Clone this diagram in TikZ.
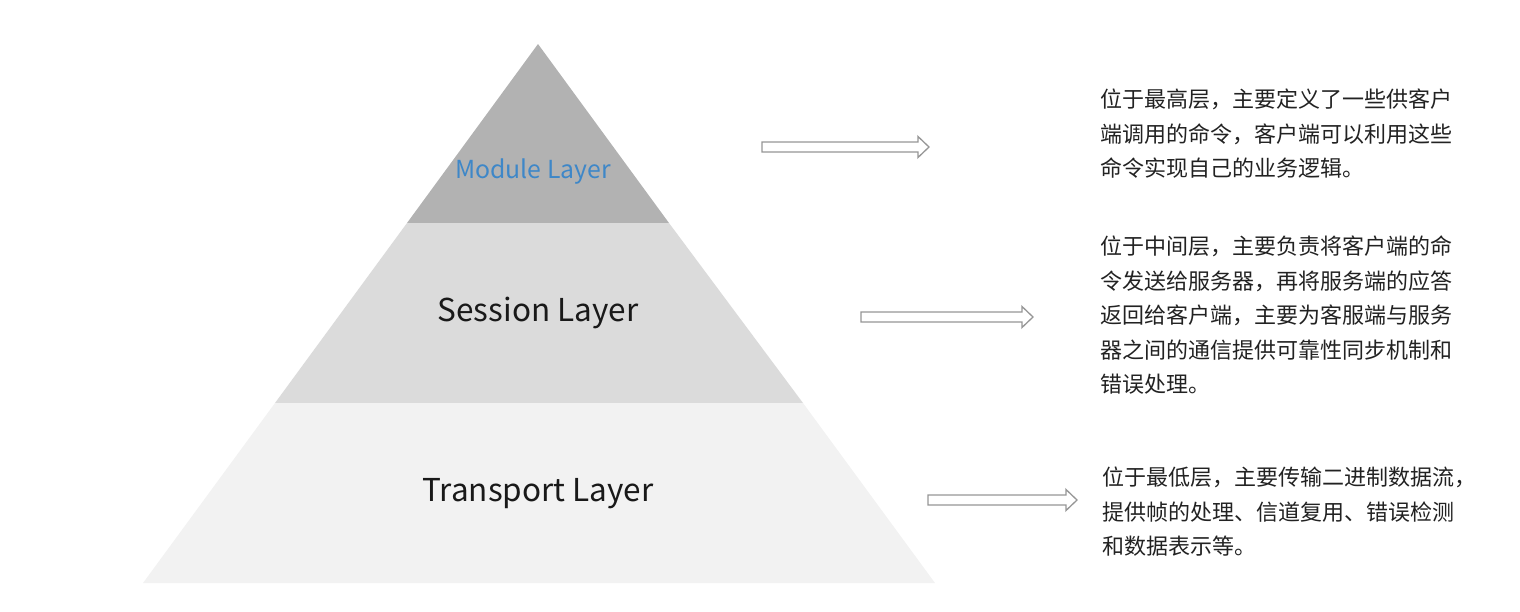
\documentclass[tikz,border=0pt]{standalone}
\usepackage{fontspec}
\usepackage{xcolor}
\usetikzlibrary{calc}
\newfontfamily\cjk{Noto Sans CJK SC}
\definecolor{mygrayA}{RGB}{178,178,178}
\definecolor{mygrayB}{RGB}{219,219,219}
\definecolor{mygrayC}{RGB}{242,242,242}
\definecolor{myblue}{RGB}{62,135,200}
\definecolor{myline}{RGB}{150,150,150}
\definecolor{mytext}{RGB}{34,34,34}

\tikzset{
  layertext/.style={font={\cjk\fontsize{31.5}{38}\selectfont}, text=black!90, inner sep=0pt, anchor=base},
  desctext/.style={font={\cjk\fontsize{22}{34.5}\selectfont}, text=mytext, inner sep=0pt, anchor=north west, align=left},
  hollow/.style={draw=myline, line width=1.3pt, fill=white, line join=miter}
}
\newcommand{\blockarrow}[2]{%
  \draw[hollow] ($(#1)+(0,-5)$) -- ($(#2)+(-11,-5)$) -- ($(#2)+(-11,-10.5)$) -- (#2)
    -- ($(#2)+(-11,10.5)$) -- ($(#2)+(-11,5)$) -- ($(#1)+(0,5)$) -- cycle;}

\begin{document}
\begin{tikzpicture}[x=1pt, y=-1pt]
\useasboundingbox (0,0) rectangle (1520,611);

\coordinate (apex) at (538,44);
\coordinate (ML) at (407,223);
\coordinate (MR) at (669,223);
\coordinate (SL) at (275,403);
\coordinate (SR) at (803,403);
\coordinate (TL) at (143,583);
\coordinate (TR) at (935,583);

\fill[mygrayA] (apex) -- (MR) -- (ML) -- cycle;
\fill[mygrayB] (ML) -- (MR) -- (SR) -- (SL) -- cycle;
\fill[mygrayC] (SL) -- (SR) -- (TR) -- (TL) -- cycle;

\node[layertext, font={\cjk\fontsize{24.8}{30}\selectfont}, text=myblue] (module) at (533,178.5) {Module Layer};
\node[layertext] (session) at (538,321.5) {Session Layer};
\node[layertext] (transport) at (538,501.5) {Transport Layer};

\coordinate (a1) at (762,147);
\coordinate (b1) at (929,147);
\coordinate (a2) at (861,317);
\coordinate (b2) at (1033,317);
\coordinate (a3) at (928,500);
\coordinate (b3) at (1077,500);

\blockarrow{a1}{b1}
\blockarrow{a2}{b2}
\blockarrow{a3}{b3}

\node[desctext] (descM) at (1100,89) {位于最高层，主要定义了一些供客户\\端调用的命令，客户端可以利用这些\\命令实现自己的业务逻辑。};
\node[desctext] (descS) at (1100,236) {位于中间层，主要负责将客户端的命\\令发送给服务器，再将服务端的应答\\返回给客户端，主要为客服端与服务\\器之间的通信提供可靠性同步机制和\\错误处理。};
\node[desctext] (descT) at (1102,467) {位于最低层，主要传输二进制数据流，\\提供帧的处理、信道复用、错误检测\\和数据表示等。};
\end{tikzpicture}
\end{document}
